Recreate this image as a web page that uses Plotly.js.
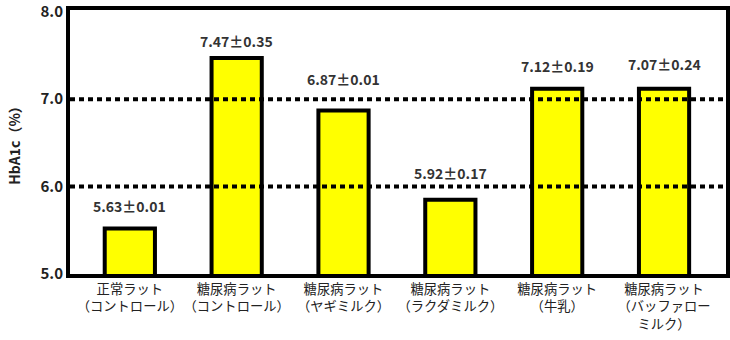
<!DOCTYPE html>
<html>
<head>
<meta charset="utf-8">
<script src="https://cdn.plot.ly/plotly-3.0.1.min.js"></script>
<style>html,body{margin:0;padding:0;background:#fff;}#chart{width:730px;height:340px;}</style>
</head>
<body>
<div id="chart"></div>
<script>
const categories = [
  "正常ラット<br>（コントロール）",
  "糖尿病ラット<br>（コントロール）",
  "糖尿病ラット<br>（ヤギミルク）",
  "糖尿病ラット<br>（ラクダミルク）",
  "糖尿病ラット<br>（牛乳）",
  "糖尿病ラット<br>（バッファロー<br>ミルク）"
];
const barHeights = [5.52, 7.47, 6.87, 5.85, 7.12, 7.12];
const meanLabels = ["5.63", "7.47", "6.87", "5.92", "7.12", "7.07"];
const sdLabels = ["0.01", "0.35", "0.01", "0.17", "0.19", "0.24"];
const labelY = [5.78, 7.66, 7.23, 6.16, 7.38, 7.40];
const yTickVals = [5, 6, 7, 8];
const yTickText = ["5.0", "6.0", "7.0", "8.0"];
const gridVals = [6, 7];

const FONT = "'Noto Sans CJK JP', 'Noto Sans', sans-serif";
const xIdx = categories.map((c, i) => i);

const trace = {
  type: 'bar',
  x: xIdx,
  y: barHeights,
  width: 0.47,
  marker: {color: '#FFFF00', line: {color: '#000', width: 4}},
  hoverinfo: 'none'
};

const annotations = meanLabels.map((m, i) => ({
  x: i, y: labelY[i], xref: 'x', yref: 'y',
  text: '<b>' + m + '±' + sdLabels[i] + '</b>',
  showarrow: false,
  font: {family: FONT, size: 14, color: '#333'}
}));

const shapes = gridVals.map(v => ({
  type: 'line', xref: 'paper', yref: 'y', x0: 0, x1: 1, y0: v, y1: v,
  layer: 'above',
  line: {color: '#000', width: 4, dash: '5px,4px'}
}));

const layout = {
  width: 730, height: 340,
  margin: {l: 70, r: 4, t: 10, b: 66},
  paper_bgcolor: '#fff', plot_bgcolor: '#fff',
  showlegend: false,
  font: {family: FONT, color: '#222'},
  xaxis: {
    range: [-0.56, 5.58],
    tickvals: xIdx, ticktext: categories,
    tickangle: 0,
    showgrid: false, zeroline: false,
    showline: true, linecolor: '#000', linewidth: 4, mirror: true,
    ticks: '', tickfont: {family: FONT, size: 13.3, color: '#222'}
  },
  yaxis: {
    range: [5, 8.02],
    tickvals: yTickVals, ticktext: yTickText.map(t => '<b>' + t + '</b>'),
    showgrid: false, zeroline: false,
    showline: true, linecolor: '#000', linewidth: 4, mirror: true,
    ticks: '',
    tickfont: {family: FONT, size: 15, color: '#222'},
    title: {text: '<b>HbA1c（%）</b>', font: {family: FONT, size: 14, color: '#222'}, standoff: 18}
  },
  annotations: annotations,
  shapes: shapes
};

Plotly.newPlot('chart', [trace], layout, {staticPlot: true, displayModeBar: false});
</script>
</body>
</html>
